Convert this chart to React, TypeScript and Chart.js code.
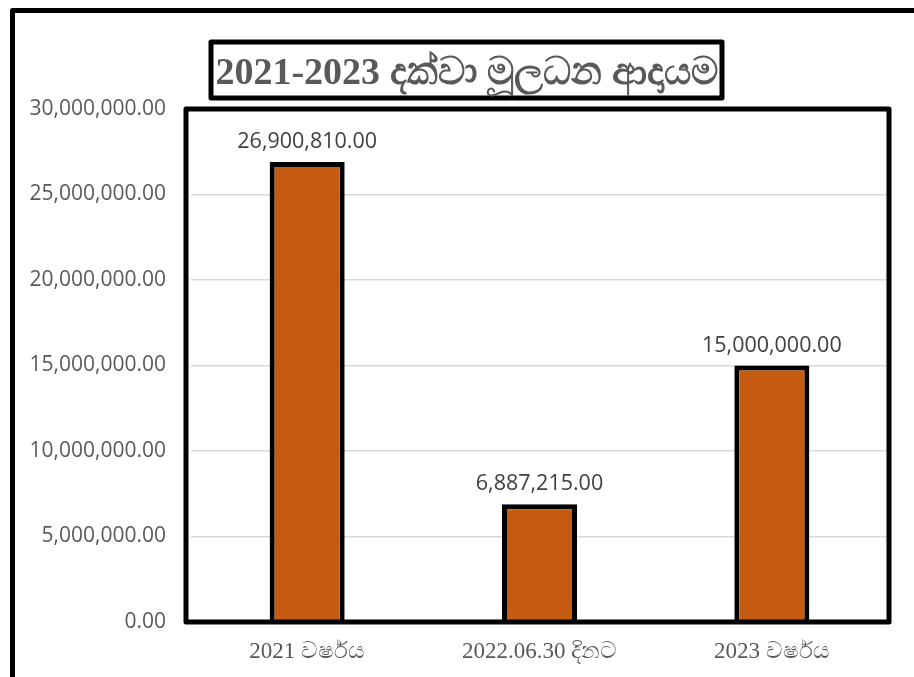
import React, { useEffect, useRef } from "react";
import { Chart, registerables } from "chart.js";

Chart.register(...registerables);

const titleText = "2021-2023 දක්වා මූලධන ආදායම";
const categories = ["2021 වර්ෂය", "2022.06.30 දිනට", "2023 වර්ෂය"];
const values = [26900810, 6887215, 15000000];
const yMin = 0;
const yMax = 30000000;
const yStep = 5000000;

const fmt = (v: number) =>
  v.toLocaleString("en-US", { minimumFractionDigits: 2, maximumFractionDigits: 2 });

const decorPlugin = {
  id: "decor",
  afterDraw(chart: any) {
    const ctx = chart.ctx;
    const ca = chart.chartArea;
    ctx.save();
    // plot border
    ctx.strokeStyle = "#000";
    ctx.lineWidth = 5;
    ctx.lineJoin = "round";
    const l = ca.left - 5;
    const r = ca.right + 1;
    ctx.strokeRect(l, ca.top, r - l, ca.bottom - ca.top);
    // outer frame
    ctx.strokeRect(12.5, 10.5, 1200, 1200);
    // title box
    const cx = 466.5;
    const bw = 511;
    ctx.fillStyle = "#fff";
    ctx.fillRect(cx - bw / 2, 42, bw, 56);
    ctx.strokeRect(cx - bw / 2, 42, bw, 56);
    ctx.fillStyle = "#595959";
    ctx.font = "bold 38px 'Liberation Serif', serif";
    ctx.textAlign = "center";
    ctx.textBaseline = "alphabetic";
    ctx.fillText(titleText, cx, 84);
    // data labels
    const meta = chart.getDatasetMeta(0);
    ctx.font = "21.5px 'Open Sans', sans-serif";
    ctx.fillStyle = "#404040";
    meta.data.forEach((bar: any, i: number) => {
      ctx.fillText(fmt(values[i]), bar.x, bar.y - 14);
    });
    ctx.restore();
  },
};

export default function App() {
  const ref = useRef<HTMLCanvasElement>(null);
  useEffect(() => {
    if (!ref.current) return;
    const chart = new Chart(ref.current, {
      type: "bar",
      data: {
        labels: categories,
        datasets: [
          {
            data: values,
            backgroundColor: "#C55A11",
            borderColor: "#000",
            borderWidth: 5,
            barPercentage: 0.323,
            categoryPercentage: 1,
          },
        ],
      },
      options: {
        responsive: false,
        animation: false,
        devicePixelRatio: 1,
        layout: { padding: { top: 109, right: 26, left: 0, bottom: 0 } },
        plugins: {
          legend: { display: false },
          tooltip: { enabled: false },
          title: { display: false },
        },
        scales: {
          x: {
            grid: { display: false, drawTicks: false },
            border: { display: false },
            ticks: {
              color: "#595959",
              padding: 16,
              font: { family: "'Liberation Serif', serif", size: 23 },
              maxRotation: 0,
            },
            afterFit(scale: any) {
              scale.height = 55;
            },
          },
          y: {
            min: yMin,
            max: yMax,
            grid: { color: "#d9d9d9", lineWidth: 1.5, drawTicks: false },
            border: { display: false },
            ticks: {
              stepSize: yStep,
              color: "#595959",
              padding: 25,
              font: { family: "'Open Sans', sans-serif", size: 21 },
              callback: (v: any) => fmt(Number(v)),
            },
            afterFit(scale: any) {
              scale.width = 191;
            },
          },
        },
      },
      plugins: [decorPlugin],
    });
    return () => chart.destroy();
  }, []);
  return (
    <div style={{ position: "fixed", left: 0, top: 0, width: 914, height: 677, background: "#fff" }}>
      <canvas ref={ref} width={914} height={677} style={{ display: "block" }} />
    </div>
  );
}
